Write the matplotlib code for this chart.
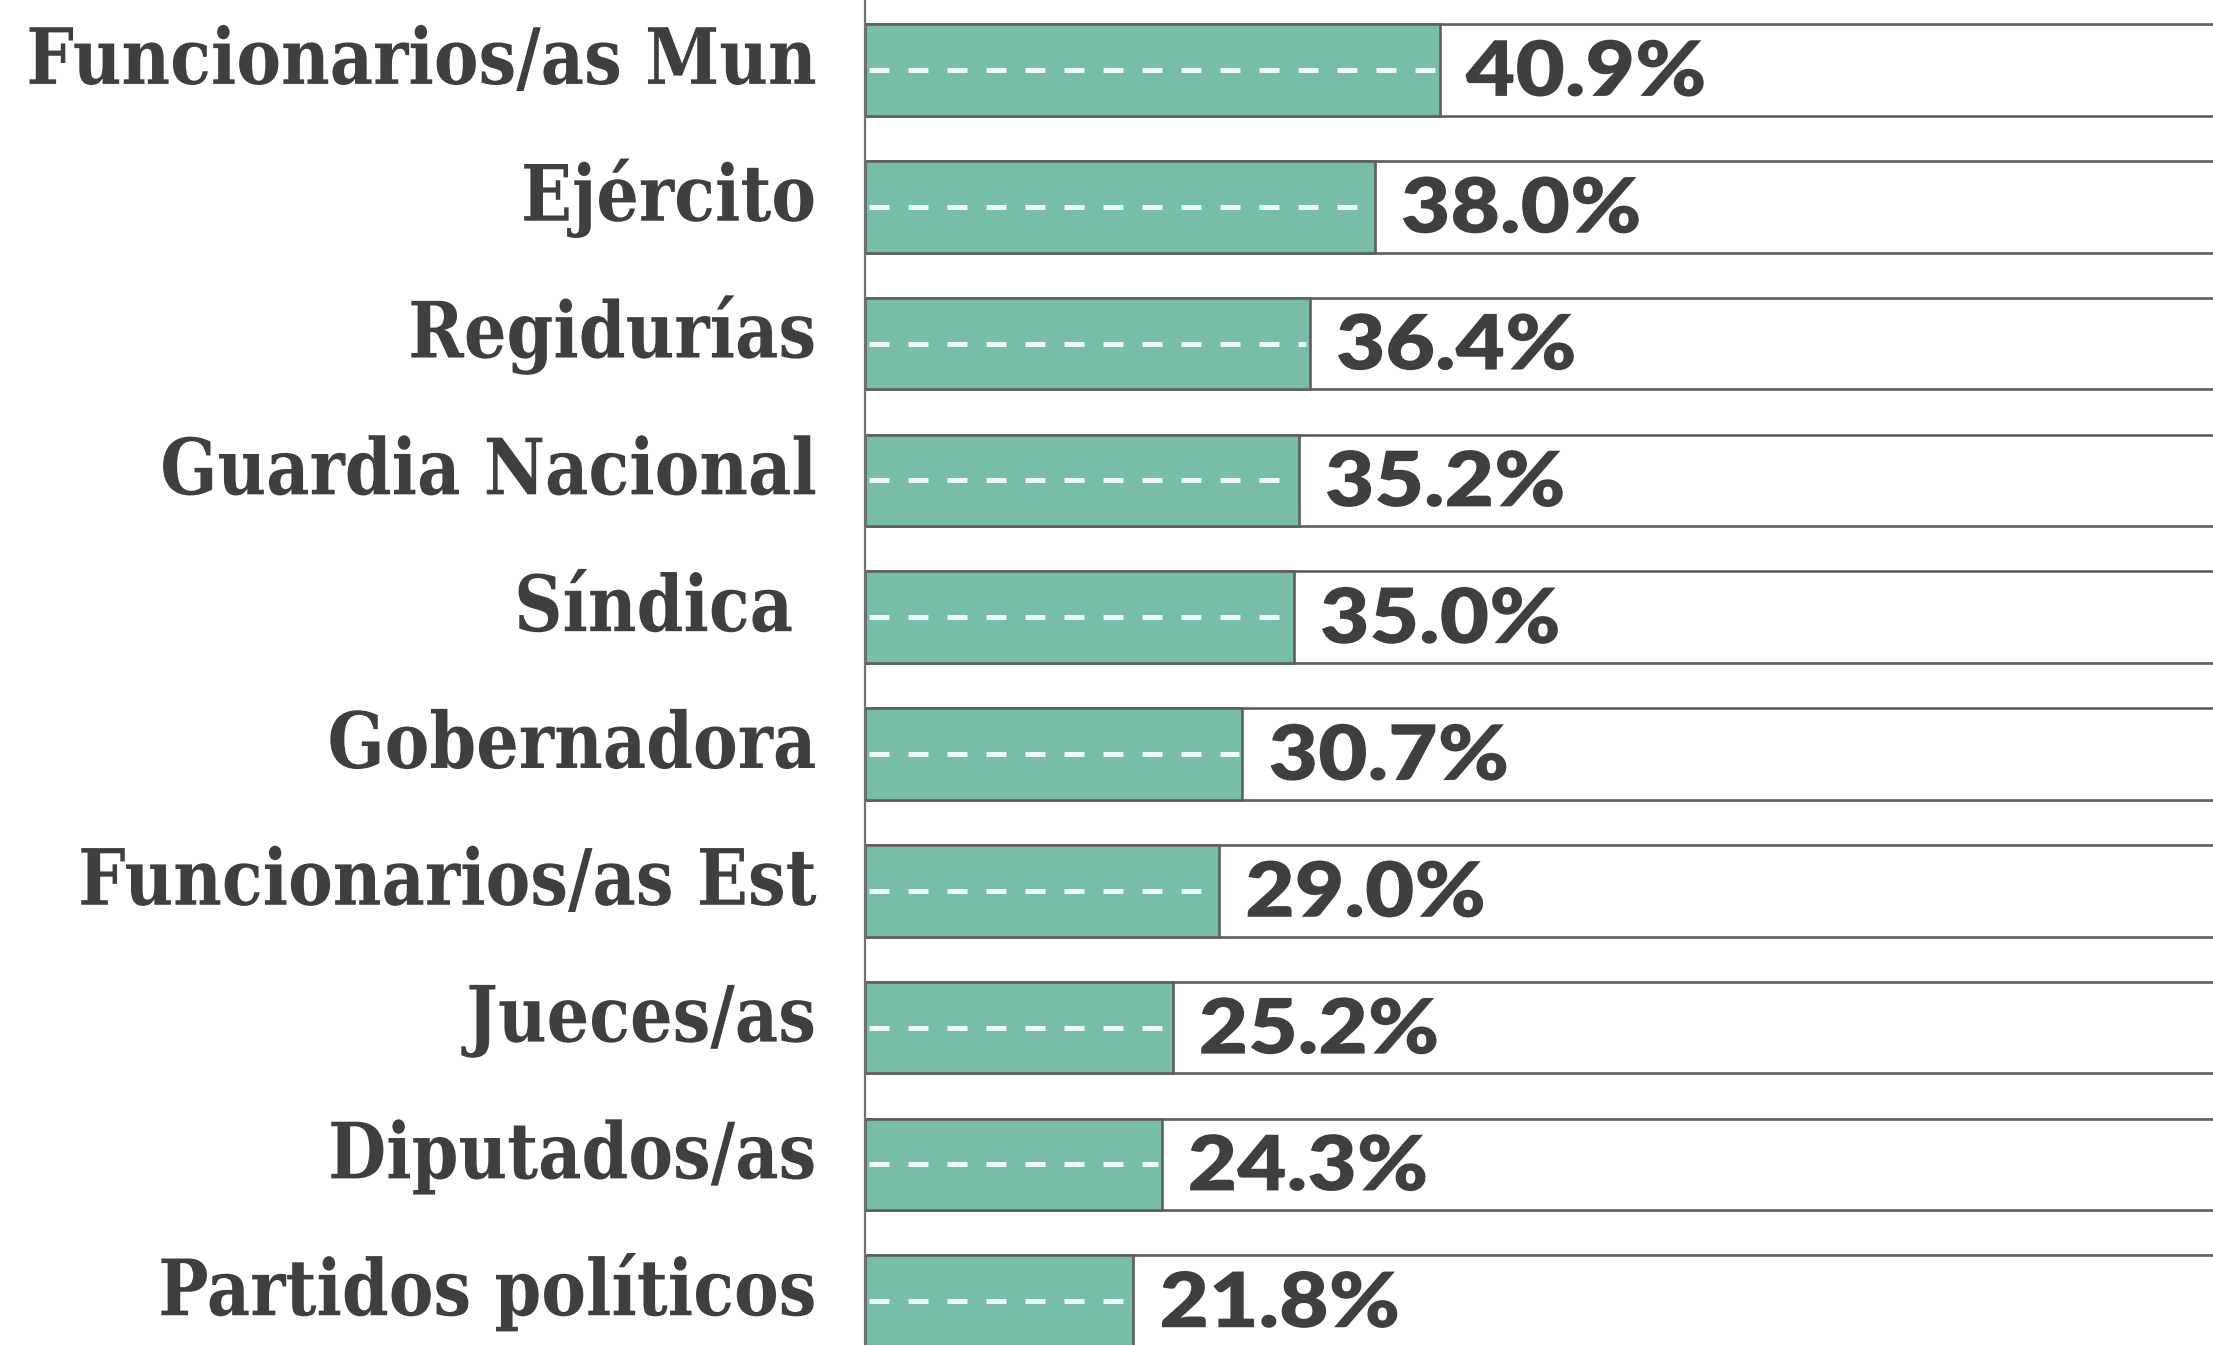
import matplotlib
matplotlib.use("Agg")
import matplotlib.pyplot as plt
from matplotlib import font_manager as fm
from matplotlib import patheffects
from matplotlib.transforms import Affine2D, offset_copy

categories = [
    "Funcionarios/as Mun",
    "Ejército",
    "Regidurías",
    "Guardia Nacional",
    "Síndica ",
    "Gobernadora",
    "Funcionarios/as Est",
    "Jueces/as",
    "Diputados/as",
    "Partidos políticos",
]
labels = ["40.9%", "38.0%", "36.4%", "35.2%", "35.0%", "30.7%", "29.0%", "25.2%", "24.3%", "21.8%"]
# bar lengths as drawn in the picture (the top two are drawn longer than their labels)
lengths = [46.9, 41.6, 36.3, 35.4, 35.0, 30.8, 28.9, 25.1, 24.2, 21.9]

TEAL = "#77bda9"
EDGE = "#5e5e5e"
TEXT = "#3f3f3f"


class Stretch(patheffects.AbstractPathEffect):
    """Scale glyph outlines around a fixed point (pixels)."""

    def __init__(self, sx, sy, xa, ya):
        super().__init__()
        self.sx, self.sy, self.xa, self.ya = sx, sy, xa, ya

    def draw_path(self, renderer, gc, tpath, affine, rgbFace=None):
        t = affine + (Affine2D().translate(-self.xa, -self.ya)
                      .scale(self.sx, self.sy).translate(self.xa, self.ya))
        renderer.draw_path(gc, tpath, t, rgbFace)


names = {f.name for f in fm.fontManager.ttflist}
label_font = "DejaVu Serif"
value_font = "Lato" if "Lato" in names else "DejaVu Sans"

W, H, DPI = 2213, 1345, 100
AX_X = 865
fig = plt.figure(figsize=(W / DPI, H / DPI), dpi=DPI)
ax = fig.add_axes([AX_X / W, 0, 1 - AX_X / W, 1])
ax.set_xlim(0, 110)
ax.set_ylim(9.32, -0.511)

ys = list(range(len(categories)))
bh = 0.67
ax.barh(ys, [200] * len(ys), height=bh, color="white", edgecolor=EDGE, linewidth=1.9, zorder=1)
ax.barh(ys, lengths, height=bh, color=TEAL, edgecolor=EDGE, linewidth=1.9, zorder=2)
for y, ln in zip(ys, lengths):
    ax.plot([0.3, ln - 0.3], [y, y], color="#eafaf4", lw=3.6, dashes=(4.0, 3.8), zorder=3,
            solid_capstyle="butt", dash_capstyle="butt")

# size the longest label to its width in the picture, then stretch glyphs upward
renderer = fig.canvas.get_renderer()
probe = fig.text(0, 0, categories[0], fontsize=56, fontweight="bold", family=label_font)
k = 790 / probe.get_window_extent(renderer).width
probe.remove()
lab_fs, lab_sy = 56 * k, 1 / k

LAB_DX, LAB_DY, VAL_DX, VAL_DY = 49, 14, 26, 26
lab_tr = offset_copy(ax.transData, fig=fig, x=-LAB_DX, y=-LAB_DY, units="dots")
val_tr = offset_copy(ax.transData, fig=fig, x=VAL_DX, y=-VAL_DY, units="dots")
for y, cat, lab, ln in zip(ys, categories, labels, lengths):
    base = ax.transData.transform((0, y))[1] - LAB_DY
    ax.text(0, y, cat, transform=lab_tr, ha="right", va="baseline", fontsize=lab_fs,
            fontweight="bold", family=label_font, color=TEXT, clip_on=False,
            path_effects=[Stretch(1, lab_sy, 0, base)])
    xa = ax.transData.transform((ln, y))[0] + VAL_DX
    ax.text(ln, y, lab, transform=val_tr, ha="left", va="baseline", fontsize=55,
            fontweight="heavy", family=value_font, color=TEXT, zorder=4,
            path_effects=[Stretch(1.12, 1, xa, 0)])

ax.set_xticks([])
ax.set_yticks([])
for s in ("top", "right", "bottom"):
    ax.spines[s].set_visible(False)
ax.spines["left"].set_color("#707070")
ax.spines["left"].set_linewidth(1.6)

fig.savefig("out.png", dpi=DPI, facecolor="white")
